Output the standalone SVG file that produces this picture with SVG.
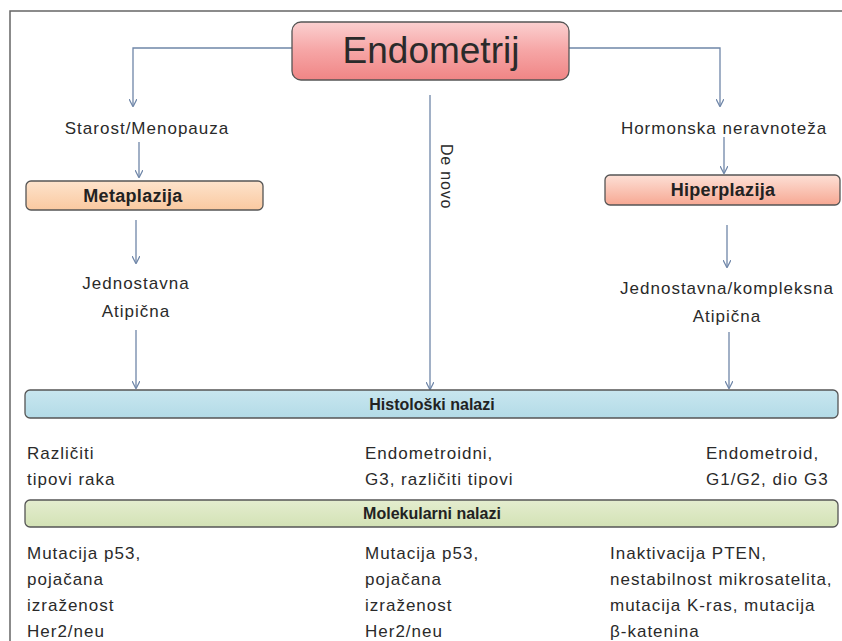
<svg xmlns="http://www.w3.org/2000/svg" width="842" height="641" viewBox="0 0 842 641">
<defs>
<linearGradient id="gRed" x1="0" y1="0" x2="0" y2="1"><stop offset="0" stop-color="#fbd0d0"/><stop offset="0.5" stop-color="#f6a5a5"/><stop offset="1" stop-color="#f08585"/></linearGradient>
<linearGradient id="gPeach" x1="0" y1="0" x2="0" y2="1"><stop offset="0" stop-color="#fde3cc"/><stop offset="1" stop-color="#fac9a0"/></linearGradient>
<linearGradient id="gSalmon" x1="0" y1="0" x2="0" y2="1"><stop offset="0" stop-color="#fde0d6"/><stop offset="1" stop-color="#f7a893"/></linearGradient>
<linearGradient id="gBlue" x1="0" y1="0" x2="0" y2="1"><stop offset="0" stop-color="#c8e6ef"/><stop offset="1" stop-color="#b3dbe7"/></linearGradient>
<linearGradient id="gGreen" x1="0" y1="0" x2="0" y2="1"><stop offset="0" stop-color="#e4edcf"/><stop offset="1" stop-color="#d3e2b5"/></linearGradient>
<marker id="arr" viewBox="0 0 10 10" refX="9" refY="5" markerWidth="8" markerHeight="8" markerUnits="userSpaceOnUse" orient="auto"><path d="M0,0 L10,5 L0,10" fill="none" stroke="#6f86a8" stroke-width="1.5"/></marker>
<style>
.t{font-family:"Liberation Sans",Arial,sans-serif;font-size:17px;letter-spacing:1px;fill:#2a2a2a}
.b{font-family:"Liberation Sans",Arial,sans-serif;font-size:16px;font-weight:bold;fill:#222}
.bb{font-family:"Liberation Sans",Arial,sans-serif;font-size:18px;font-weight:bold;letter-spacing:0.3px;fill:#222}
.c{text-anchor:middle}
.ln{fill:none;stroke:#6f86a8;stroke-width:1.3}
.box{stroke:#555;stroke-width:1.3}
</style>
</defs>
<rect x="0" y="0" width="842" height="641" fill="#fff"/>
<path d="M10,641 V11 H842" fill="none" stroke="#666" stroke-width="1.5"/>
<g id="connectors">
<path class="ln" d="M292,48 H133 V106" marker-end="url(#arr)"/>
<path class="ln" d="M569,48 H720 V106" marker-end="url(#arr)"/>
<path class="ln" d="M430,95 V389" marker-end="url(#arr)"/>
<path class="ln" d="M139,142 V177" marker-end="url(#arr)"/>
<path class="ln" d="M136,220 V263" marker-end="url(#arr)"/>
<path class="ln" d="M136,330 V388" marker-end="url(#arr)"/>
<path class="ln" d="M724,137 V173" marker-end="url(#arr)"/>
<path class="ln" d="M727,225 V267" marker-end="url(#arr)"/>
<path class="ln" d="M729,332 V388" marker-end="url(#arr)"/>
</g>
<g id="endometrij">
<rect class="box" x="292" y="22" width="277" height="58" rx="9" fill="url(#gRed)"/>
<text class="t c" x="431" y="63" style="font-size:37px;letter-spacing:0">Endometrij</text>
</g>
<g id="denovo"><text class="t" x="0" y="0" transform="translate(441,144) rotate(90)" style="font-size:16px;letter-spacing:0.8px">De novo</text></g>
<g id="starost"><text class="t c" x="147" y="134">Starost/Menopauza</text></g>
<g id="metaplazija">
<rect class="box" x="26" y="181" width="237" height="29" rx="5" fill="url(#gPeach)"/>
<text class="bb c" x="133" y="202">Metaplazija</text>
</g>
<g id="jed1"><text class="t c" x="136" y="289">Jednostavna</text><text class="t c" x="136" y="317">Atipična</text></g>
<g id="hormonska"><text class="t c" x="724" y="134">Hormonska neravnoteža</text></g>
<g id="hiperplazija">
<rect class="box" x="605" y="175" width="235" height="30" rx="5" fill="url(#gSalmon)"/>
<text class="bb c" x="723" y="196">Hiperplazija</text>
</g>
<g id="jed2"><text class="t c" x="727" y="294">Jednostavna/kompleksna</text><text class="t c" x="727" y="322">Atipična</text></g>
<g id="histoloski">
<rect class="box" x="25" y="390" width="813" height="28" rx="5" fill="url(#gBlue)"/>
<text class="b c" x="432" y="410">Histološki nalazi</text>
</g>
<g id="hist-texts">
<text class="t" x="27" y="459">Različiti</text><text class="t" x="27" y="485">tipovi raka</text>
<text class="t" x="365" y="459">Endometroidni,</text><text class="t" x="365" y="485">G3, različiti tipovi</text>
<text class="t" x="706" y="459">Endometroid,</text><text class="t" x="706" y="485">G1/G2, dio G3</text>
</g>
<g id="molekularni">
<rect class="box" x="25" y="500" width="813" height="27" rx="5" fill="url(#gGreen)"/>
<text class="b c" x="432" y="519">Molekularni nalazi</text>
</g>
<g id="mol-texts">
<text class="t" x="27" y="559">Mutacija p53,</text><text class="t" x="27" y="585">pojačana</text><text class="t" x="27" y="611">izraženost</text><text class="t" x="27" y="637">Her2/neu</text>
<text class="t" x="365" y="559">Mutacija p53,</text><text class="t" x="365" y="585">pojačana</text><text class="t" x="365" y="611">izraženost</text><text class="t" x="365" y="637">Her2/neu</text>
<text class="t" x="610" y="559">Inaktivacija PTEN,</text><text class="t" x="610" y="585">nestabilnost mikrosatelita,</text><text class="t" x="610" y="611">mutacija K-ras, mutacija</text><text class="t" x="610" y="637">β-katenina</text>
</g>
</svg>
